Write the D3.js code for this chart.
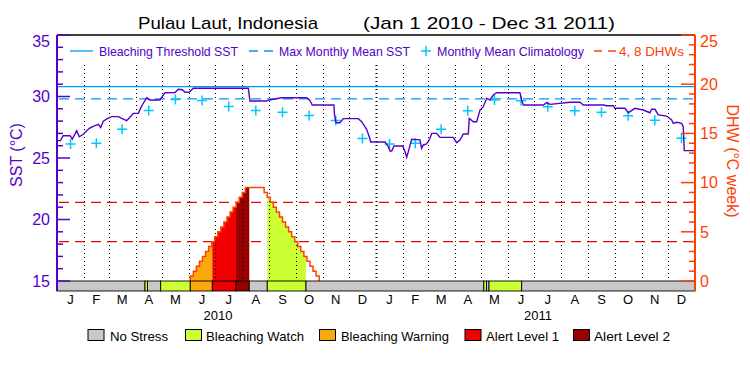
<!DOCTYPE html>
<html><head><meta charset="utf-8">
<script src="https://cdn.jsdelivr.net/npm/d3@7"></script>
<style>body{margin:0;background:#fff} svg{display:block} text{font-family:"Liberation Sans",Arial,sans-serif}</style>
</head><body><svg id="c" width="750" height="375"></svg>
<script>
// ---------- data ----------
const titleLeft = "Pulau Laut, Indonesia";
const titleRight = "(Jan 1 2010 - Dec 31 2011)";
const monthLabels = ["J","F","M","A","M","J","J","A","S","O","N","D"];
const yearLabels = ["2010","2011"];
const sstTicks = [15,20,25,30,35];
const dhwTicks = [0,5,10,15,20,25];
const mmm = 29.8;
const threshold = 30.8;
const dhwLevels = [4, 8];
const climatology = [26.14,26.2,27.33,28.87,29.76,29.68,29.19,28.86,28.72,28.46,28.05,26.59,
                     26.14,26.2,27.33,28.85,29.72,29.66,29.17,28.85,28.72,28.44,28.06,26.6];
// SST: day offset from Jan 1 2010, value
const sstDays = [0,4,7,15,17.5,22.5,25.5,30,37,42,47.3,50,53,58,62.6,70.2,74,79.7,85,87.3,93,96.9,102.6,106.4,117.8,123.6,135,138.8,143.4,146.5,151.4,156,218.9,220.8,239.9,243,257.1,285.7,289,292.1,316.9,317.5,319.2,323.8,327.6,344.8,348.6,354.3,357.3,358.9,375.3,379.1,381,383,385.6,395.5,398.2,400.1,402,405.8,415.3,417.2,419.1,423,426.8,428.7,434.4,438.2,453.4,457.3,461.1,464.9,470.6,471.7,476.3,480.2,484,487.8,491.6,495.4,499.2,503,529.7,531.6,533.6,556.5,560.3,564.1,587,598.4,602.2,625.1,628.9,636.5,638.4,649.9,653.7,655.6,661.3,670.8,678.4,680.4,684.2,688,697.6,703.3,705.2,709,714.7,716.6,717.7,730];
const sstValues = [26.41,26.41,26.81,26.81,26.53,27.22,26.73,26.93,27.41,27.6,27.74,27.47,28.0,28.22,28.36,28.36,28.22,28.03,28.44,28.63,28.63,29.23,29.9,29.72,29.72,30.31,30.33,30.59,30.55,30.34,30.37,30.67,30.67,29.63,29.63,29.72,29.9,29.9,29.72,29.31,29.31,28.5,27.87,27.87,28.2,28.2,27.95,27.33,26.73,26.3,26.3,25.92,25.57,25.57,25.98,25.98,25.52,25.06,25.52,26.52,26.47,25.79,26.06,26.14,26.6,27.0,27.0,26.68,26.68,26.25,26.46,26.95,26.95,28.22,27.95,27.95,28.9,29.17,29.85,29.72,30.12,30.31,30.31,29.72,29.31,29.31,29.5,29.36,29.53,29.53,29.31,29.31,29.25,29.25,29.04,29.04,28.68,28.77,29.04,28.9,28.68,28.96,28.96,28.5,28.41,28.09,27.82,27.9,27.82,27.55,25.6,25.6];
// DHW (twice weekly), day offset and value
const dhwDays = [152.5,152.5,156,159.5,163,166.5,170,173.5,177,180.5,184,187.5,191,194.5,198,201.5,205,208.5,212,215.5,237,240.5,244,247.5,251,254.5,258,261.5,265,268.5,272,275.5,279,282.5,286,289.5,293,296.5,300];
const dhwValues = [0,0.5,1,1.5,2,2.5,3,3.5,4,4.5,5,5.5,6,6.5,7,7.5,8,8.5,9,9.5,9,8.5,8,7.5,7,6.5,6,5.5,5,4.5,4,3.5,3,2.5,2,1.5,1,0.5,0];
// stress level periods (start day offset, level)
const stressStart = [0,100.7,103.6,118.6,152.5,177.7,204.8,220,240.6,284.9,488.4,491.4,494.3,531.7];
const stressLevel = [0,1,0,1,2,3,4,0,1,0,1,0,1,0];
const stressNames = ["No Stress","Bleaching Watch","Bleaching Warning","Alert Level 1","Alert Level 2"];
const stressColors = ["#c8c8c8","#ccff33","#fba80f","#f00000","#990000"];

// ---------- setup ----------
const svg = d3.select("#c");
const t0 = Date.UTC(2010,0,1), t1 = Date.UTC(2012,0,1);
const toDate = d => new Date(t0 + d*864e5);
const L = 57, R = 695, TOP = 35, Y0 = 281, BARB = 291;
const x = d3.scaleUtc().domain([new Date(t0), new Date(t1)]).range([L, R]);
const ySST = d3.scaleLinear().domain([15,35]).range([Y0, TOP]);
const yDHW = d3.scaleLinear().domain([0,25]).range([Y0, TOP]);
const PURPLE = "#5500c8", BLUE = "#0096ff", CYAN = "#00c8ff", DHWC = "#ff4000", RED = "#f00000";

// red dashed DHW levels
svg.selectAll(".lev").data(dhwLevels).enter().append("line")
  .attr("x1", L+2).attr("x2", R).attr("y1", d=>yDHW(d)).attr("y2", d=>yDHW(d))
  .attr("stroke", RED).attr("stroke-width", 1.3).attr("stroke-dasharray", "10,6");

// DHW fill by stress
const dhwPts = dhwDays.map((d,i)=>[toDate(d), dhwValues[i]]);
const area = d3.area().x(d=>x(d[0])).y0(Y0).y1(d=>yDHW(d[1])).curve(d3.curveStepAfter);
const segs = stressStart.map((s,i)=>({s, e: i<stressStart.length-1 ? stressStart[i+1] : 730, lev: stressLevel[i]}));
const defs = svg.append("defs");
segs.forEach((g,i)=>{
  if (g.lev === 0) return;
  defs.append("clipPath").attr("id","cp"+i).append("rect")
    .attr("x", x(toDate(g.s))).attr("width", x(toDate(g.e)) - x(toDate(g.s)))
    .attr("y", TOP).attr("height", Y0-TOP);
  svg.append("path").datum(dhwPts).attr("d", area).attr("fill", stressColors[g.lev])
    .attr("clip-path", `url(#cp${i})`);
});

// month dotted grid
const months = d3.utcMonth.range(new Date(t0), new Date(t1));
svg.selectAll(".grid").data(months.slice(1)).enter().append("line")
  .attr("x1", d=>Math.round(x(d))+0.5).attr("x2", d=>Math.round(x(d))+0.5)
  .attr("y1", 65).attr("y2", Y0)
  .attr("stroke", "#000").attr("stroke-width", d=>d.getUTCMonth()===0?2:1)
  .attr("stroke-dasharray", "1,3");

// DHW outline
svg.append("path").datum(dhwPts)
  .attr("d", d3.line().x(d=>x(d[0])).y(d=>yDHW(d[1])).curve(d3.curveStepAfter))
  .attr("fill","none").attr("stroke", DHWC).attr("stroke-width", 1.5);

// threshold and MMM
svg.append("line").attr("x1", L).attr("x2", R).attr("y1", ySST(threshold)).attr("y2", ySST(threshold))
  .attr("stroke", BLUE).attr("stroke-width", 1.3);
svg.append("line").attr("x1", L+2).attr("x2", R).attr("y1", ySST(mmm)).attr("y2", ySST(mmm))
  .attr("stroke", BLUE).attr("stroke-width", 1.3).attr("stroke-dasharray", "10,6");

// climatology crosses at mid-month
const crossPath = (cx, cy, s) => `M${cx-s},${cy}H${cx+s}M${cx},${cy-s}V${cy+s}`;
svg.selectAll(".clim").data(climatology).enter().append("path")
  .attr("d", (v,i)=>{ const m0 = months[i], m1 = d3.utcMonth.offset(m0,1);
    const cx = (x(m0)+x(m1))/2; return crossPath(cx, ySST(v), 5); })
  .attr("stroke", CYAN).attr("stroke-width", 1.5).attr("fill","none");

// SST line
const sstPts = sstDays.map((d,i)=>[toDate(d), sstValues[i]]);
svg.append("path").datum(sstPts)
  .attr("d", d3.line().x(d=>x(d[0])).y(d=>ySST(d[1])))
  .attr("fill","none").attr("stroke", PURPLE).attr("stroke-width", 1.4);

// stress bar
svg.selectAll(".bar").data(segs).enter().append("rect")
  .attr("x", d=>x(toDate(d.s))).attr("width", d=>x(toDate(d.e))-x(toDate(d.s)))
  .attr("y", Y0).attr("height", BARB-Y0)
  .attr("fill", d=>stressColors[d.lev]).attr("stroke","#000").attr("stroke-width",0.9);

// top border
svg.append("line").attr("x1", L).attr("x2", R).attr("y1", TOP).attr("y2", TOP).attr("stroke","#000").attr("stroke-width",1.5);

// left axis
svg.append("line").attr("x1", L).attr("x2", L).attr("y1", TOP).attr("y2", BARB).attr("stroke", PURPLE).attr("stroke-width", 2);
svg.selectAll(".lt").data(d3.range(15,36)).enter().append("line")
  .attr("x1", L).attr("x2", d=> L + (d%5===0?13:6)).attr("y1", d=>ySST(d)).attr("y2", d=>ySST(d))
  .attr("stroke", PURPLE).attr("stroke-width", 1.5);
svg.selectAll(".ll").data(sstTicks).enter().append("text")
  .attr("x", 50).attr("y", d=>Math.max(ySST(d), 41)).attr("dy","0.36em")
  .attr("text-anchor","end").attr("font-size",16).attr("fill",PURPLE).text(d=>d);
svg.append("text").attr("transform","translate(22,155) rotate(-90)").attr("text-anchor","middle")
  .attr("font-size",16).attr("fill",PURPLE).text("SST (°C)");

// right axis
svg.append("line").attr("x1", R).attr("x2", R).attr("y1", TOP).attr("y2", BARB).attr("stroke", DHWC).attr("stroke-width", 2);
svg.selectAll(".rt").data(d3.range(0,26)).enter().append("line")
  .attr("x1", R).attr("x2", d=> R - (d%5===0?14:6)).attr("y1", d=>yDHW(d)).attr("y2", d=>yDHW(d))
  .attr("stroke", DHWC).attr("stroke-width", 1.5);
svg.selectAll(".rl").data(dhwTicks).enter().append("text")
  .attr("x", 700).attr("y", d=>Math.max(yDHW(d), 41)).attr("dy","0.36em")
  .attr("font-size",16).attr("fill",DHWC).text(d=>d);
svg.append("text").attr("transform","translate(727,161) rotate(90)").attr("text-anchor","middle")
  .attr("font-size",16).attr("fill",DHWC).text("DHW (°C week)");

// month & year labels
svg.selectAll(".ml").data(months).enter().append("text")
  .attr("x", d=> (x(d)+x(d3.utcMonth.offset(d,1)))/2).attr("y", 304)
  .attr("text-anchor","middle").attr("font-size",13).attr("fill","#000")
  .text(d=>monthLabels[d.getUTCMonth()]);
svg.selectAll(".yl").data(yearLabels).enter().append("text")
  .attr("x", (d,i)=> [218,538][i]).attr("y", 320)
  .attr("text-anchor","middle").attr("font-size",13).attr("fill","#000").text(d=>d);

// title
svg.append("text").attr("x",138).attr("y",29).attr("font-size",17).attr("textLength",180).attr("lengthAdjust","spacingAndGlyphs").text(titleLeft);
svg.append("text").attr("x",363).attr("y",29).attr("font-size",17).attr("textLength",252).attr("lengthAdjust","spacingAndGlyphs").text(titleRight);

// top legend
const ly = 51, lb = 56;
svg.append("line").attr("x1",70).attr("x2",93).attr("y1",ly).attr("y2",ly).attr("stroke",BLUE).attr("stroke-width",1.3);
svg.append("line").attr("x1",249).attr("x2",273).attr("y1",ly).attr("y2",ly).attr("stroke",BLUE).attr("stroke-width",1.3).attr("stroke-dasharray","9,6");
svg.append("path").attr("d",crossPath(426,ly,5)).attr("stroke",CYAN).attr("stroke-width",1.5);
svg.append("line").attr("x1",594).attr("x2",616).attr("y1",ly).attr("y2",ly).attr("stroke",DHWC).attr("stroke-width",1.3).attr("stroke-dasharray","8,6");
const topLeg = [["Bleaching Threshold SST",99,139,PURPLE],["Max Monthly Mean SST",279,131,PURPLE],["Monthly Mean Climatology",437,147,PURPLE],["4, 8 DHWs",619,65,DHWC]];
topLeg.forEach(t=> svg.append("text").attr("x",t[1]).attr("y",lb).attr("font-size",13).attr("fill",t[3])
  .attr("textLength",t[2]).attr("lengthAdjust","spacingAndGlyphs").text(t[0]));

// bottom legend
const legX = [[88,110,58],[185.5,206,98],[319.5,341,108],[465,486,73],[573.5,594,76]];
stressNames.forEach((n,i)=>{
  svg.append("rect").attr("x",legX[i][0]).attr("y",329.5).attr("width",16).attr("height",11)
    .attr("fill",stressColors[i]).attr("stroke","#000").attr("stroke-width",1);
  svg.append("text").attr("x",legX[i][1]).attr("y",341).attr("font-size",13.5).attr("fill","#000")
    .attr("textLength",legX[i][2]).attr("lengthAdjust","spacingAndGlyphs").text(n);
});
</script></body></html>
